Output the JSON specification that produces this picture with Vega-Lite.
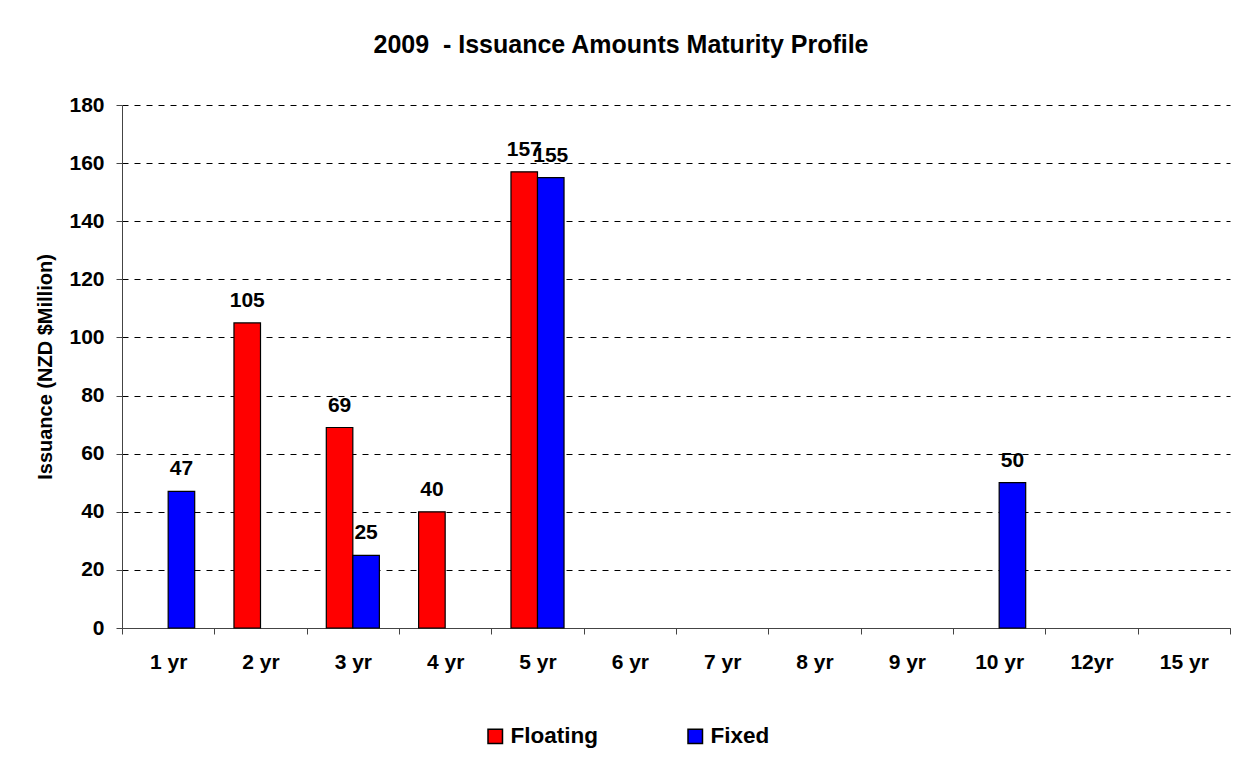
{
  "$schema": "https://vega.github.io/schema/vega-lite/v6.json",
  "width": 1108,
  "height": 523,
  "autosize": {"type": "none"},
  "padding": {"left": 122, "top": 105, "right": 15, "bottom": 129},
  "background": "white",
  "title": {
    "text": "2009\u00a0 - Issuance Amounts Maturity Profile",
    "fontSize": 25,
    "font": "Liberation Sans",
    "fontWeight": "bold",
    "color": "black",
    "anchor": "middle",
    "dx": -55,
    "offset": 36
  },
  "data": {
    "values": [
      {"term": "1 yr", "type": "Fixed", "amount": 47},
      {"term": "2 yr", "type": "Floating", "amount": 105},
      {"term": "3 yr", "type": "Floating", "amount": 69},
      {"term": "3 yr", "type": "Fixed", "amount": 25},
      {"term": "4 yr", "type": "Floating", "amount": 40},
      {"term": "5 yr", "type": "Floating", "amount": 157},
      {"term": "5 yr", "type": "Fixed", "amount": 155},
      {"term": "10 yr", "type": "Fixed", "amount": 50}
    ]
  },
  "encoding": {
    "x": {
      "field": "term",
      "type": "nominal",
      "sort": null,
      "scale": {
        "domain": ["1 yr", "2 yr", "3 yr", "4 yr", "5 yr", "6 yr", "7 yr", "8 yr", "9 yr", "10 yr", "12yr", "15 yr"],
        "paddingInner": 0,
        "paddingOuter": 0
      },
      "axis": {
        "title": null,
        "labelAngle": 0,
        "labelFont": "Liberation Sans",
        "labelFontWeight": "bold",
        "labelFontSize": 21,
        "labelColor": "black",
        "labelPadding": 17,
        "tickBand": "extent",
        "tickSize": 6,
        "tickColor": "#444",
        "domainColor": "#444",
        "grid": false
      }
    },
    "xOffset": {
      "field": "type",
      "type": "nominal",
      "scale": {"domain": ["Floating", "Fixed"], "paddingInner": 0, "paddingOuter": 0.74}
    },
    "y": {
      "field": "amount",
      "type": "quantitative",
      "scale": {"domain": [0, 180], "nice": false},
      "axis": {
        "title": "Issuance (NZD $Million)",
        "titleFont": "Liberation Sans",
        "titleFontWeight": "bold",
        "titleFontSize": 20,
        "titleColor": "black",
        "titlePadding": 13,
        "values": [0, 20, 40, 60, 80, 100, 120, 140, 160, 180],
        "labelFont": "Liberation Sans",
        "labelFontWeight": "bold",
        "labelFontSize": 21,
        "labelColor": "black",
        "labelPadding": 12,
        "tickSize": 6,
        "tickColor": "#444",
        "domainColor": "#444",
        "grid": true,
        "gridColor": "black",
        "gridDash": [6, 6],
        "gridWidth": 1
      }
    }
  },
  "layer": [
    {
      "mark": {"type": "bar", "stroke": "black", "strokeWidth": 1.2},
      "encoding": {
        "color": {
          "field": "type",
          "type": "nominal",
          "scale": {"domain": ["Floating", "Fixed"], "range": ["#ff0000", "#0000ff"]},
          "legend": {
            "title": null,
            "orient": "none",
            "direction": "horizontal",
            "legendX": 362,
            "legendY": 620,
            "symbolType": "square",
            "symbolSize": 210,
            "symbolStrokeColor": "black",
            "symbolStrokeWidth": 1.5,
            "symbolOpacity": 1,
            "labelFont": "Liberation Sans",
            "labelFontWeight": "bold",
            "labelFontSize": 22.5,
            "labelColor": "black",
            "labelOffset": 4,
            "columnPadding": 86,
            "padding": 0
          }
        }
      }
    },
    {
      "mark": {
        "type": "text",
        "baseline": "bottom",
        "dy": -12,
        "font": "Liberation Sans",
        "fontWeight": "bold",
        "fontSize": 21,
        "color": "black"
      },
      "encoding": {
        "text": {"field": "amount", "type": "quantitative"}
      }
    }
  ],
  "config": {
    "view": {"stroke": null}
  }
}
